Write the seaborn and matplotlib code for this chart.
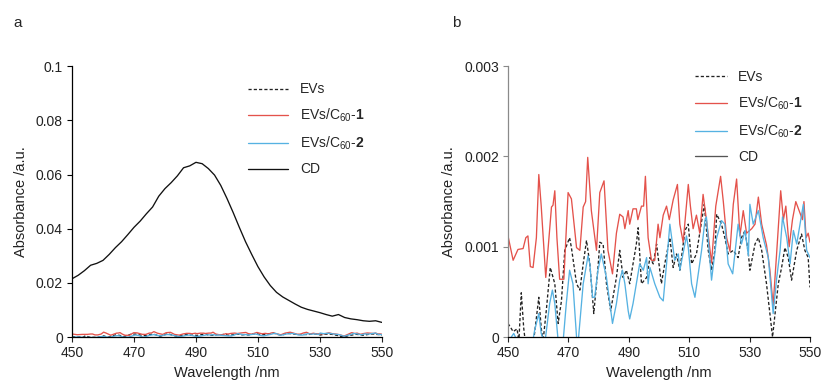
import matplotlib
matplotlib.use("Agg")
import matplotlib.pyplot as plt
import numpy as np
import seaborn as sns

# ---- values ----
# CD absorbance (panel a)
cd_wl = [450, 452, 454, 456, 458, 460, 462, 464, 466, 468,
         470, 472, 474, 476, 478, 480, 482, 484, 486, 488,
         490, 492, 494, 496, 498, 500, 502, 504, 506, 508,
         510, 512, 514, 516, 518, 520, 522, 524, 526, 528,
         530, 532, 534, 536, 538, 540, 542, 544, 546, 548, 550]
cd_abs = [0.0215, 0.0228, 0.0245, 0.0265, 0.0272, 0.0283, 0.0305, 0.0330, 0.0352, 0.0378,
          0.0405, 0.0428, 0.0455, 0.0480, 0.0520, 0.0548, 0.0570, 0.0595, 0.0625, 0.0632,
          0.0645, 0.0640, 0.0622, 0.0598, 0.0560, 0.0512, 0.0460, 0.0405, 0.0352, 0.0305,
          0.0260, 0.0222, 0.0190, 0.0165, 0.0148, 0.0135, 0.0122, 0.0110, 0.0102, 0.0096,
          0.0090, 0.0083, 0.0077, 0.0083, 0.0072, 0.0067, 0.0064, 0.0060, 0.0058, 0.0060, 0.0054]

# EVs (x 1e-3)
evs_wl = [450.0, 450.8, 451.7, 453.0, 453.6, 454.4, 455.2, 455.9, 458.3, 460.2,
          461.0, 461.6, 462.7, 464.0, 465.5, 466.6, 467.7, 468.8, 470.4, 471.0,
          472.7, 473.8, 474.9, 476.0, 477.1, 478.4, 479.8, 480.4, 481.5, 482.6,
          484.0, 485.9, 487.0, 488.1, 489.2, 490.3, 492.5, 493.1, 494.2, 495.9,
          497.0, 498.1, 499.2, 500.8, 501.9, 503.6, 504.7, 505.8, 506.9, 508.6,
          509.7, 510.8, 512.4, 515.0, 516.3, 517.4, 518.5, 519.1, 520.7, 521.8,
          522.9, 524.6, 526.2, 527.3, 528.5, 529.6, 530.1, 531.8, 532.9, 534.0,
          535.6, 537.6, 539.5, 540.6, 541.7, 542.8, 543.9, 545.6, 547.2, 548.3,
          549.4, 550.0]
evs_abs = np.array([
    0.15, 0.11, 0.06, 0.09, -0.05, 0.49, 0.10, -0.10, -0.10, 0.44,
    0.10, -0.05, 0.30, 0.77, 0.59, 0.15, 0.40, 0.96, 1.10, 0.99,
    0.59, 0.52, 0.81, 1.07, 0.81, 0.26, 0.77, 1.05, 1.03, 0.59,
    0.29, 0.66, 0.96, 0.66, 0.74, 0.59, 1.03, 1.21, 0.59, 0.66,
    0.88, 0.81, 1.03, 0.59, 0.81, 1.10, 0.77, 0.92, 0.74, 1.18,
    1.25, 0.81, 0.92, 1.47, 0.96, 0.74, 0.96, 1.36, 1.25, 1.10,
    0.92, 0.96, 0.88, 1.10, 1.18, 0.92, 0.74, 1.03, 1.10, 0.96,
    0.59, 0.00, 0.59, 0.77, 0.99, 0.88, 0.63, 0.96, 1.14, 0.96,
    0.88, 0.55]) * 1e-3

# EVs/C60-1 (x 1e-3)
c60_1_wl = [450.0, 451.7, 453.3, 455.0, 455.9, 456.6, 457.4, 458.3, 459.4, 460.2,
            461.0, 462.5, 464.4, 464.9, 465.5, 466.2, 467.1, 468.5, 469.9, 471.0,
            472.7, 473.8, 474.9, 475.7, 476.4, 477.6, 479.3, 480.4, 481.8, 483.1,
            484.6, 485.9, 487.0, 488.1, 488.7, 489.8, 490.3, 491.4, 492.5, 493.0,
            494.2, 494.9, 495.5, 496.4, 497.5, 498.6, 499.7, 500.3, 501.4, 502.5,
            503.4, 504.7, 506.1, 506.9, 508.0, 509.7, 510.4, 511.3, 512.4, 513.5,
            514.6, 515.7, 517.4, 518.8, 520.4, 521.3, 522.4, 523.5, 524.6, 525.7,
            526.8, 527.9, 529.0, 530.7, 531.8, 532.9, 534.0, 535.6, 536.7, 537.8,
            538.9, 540.3, 541.2, 542.0, 543.1, 544.2, 545.3, 546.4, 547.5, 548.0,
            548.7, 549.4, 550.0]
c60_1_abs = np.array([
    1.12, 0.85, 0.97, 0.98, 1.10, 1.12, 0.78, 0.77, 1.10, 1.80,
    1.45, 0.66, 1.44, 1.46, 1.62, 1.10, 0.64, 0.64, 1.60, 1.53,
    0.99, 0.96, 1.44, 1.50, 1.99, 1.40, 0.96, 1.60, 1.73, 0.96,
    0.70, 1.15, 1.36, 1.33, 1.20, 1.40, 1.25, 1.42, 1.42, 1.30,
    1.45, 1.45, 1.78, 1.10, 0.85, 0.85, 1.25, 1.10, 1.35, 1.45,
    1.30, 1.52, 1.69, 1.25, 1.05, 1.69, 1.45, 1.20, 1.35, 1.15,
    1.58, 1.30, 0.82, 1.45, 1.78, 1.50, 1.10, 0.95, 1.47, 1.75,
    1.12, 1.40, 1.15, 1.20, 1.25, 1.55, 1.25, 1.02, 0.75, 0.35,
    0.90, 1.62, 1.30, 1.45, 1.00, 1.30, 1.50, 1.40, 1.30, 1.50,
    1.10, 1.15, 1.05]) * 1e-3

# EVs/C60-2 (x 1e-3)
c60_2_wl = [450.0, 451.1, 451.9, 453.0, 453.9, 457.7, 458.8, 460.2, 461.0, 462.2,
            463.8, 464.7, 465.5, 466.6, 468.2, 469.3, 470.4, 471.5, 472.7, 473.2,
            474.9, 476.5, 477.1, 478.0, 478.7, 479.8, 480.9, 482.6, 484.6, 485.9,
            487.0, 487.9, 488.7, 489.8, 490.3, 491.4, 493.6, 494.8, 495.9, 496.4,
            497.0, 498.6, 500.3, 501.4, 502.5, 503.6, 505.2, 506.4, 506.9, 509.1,
            509.7, 510.8, 511.9, 514.1, 515.2, 515.7, 517.4, 519.1, 520.7, 521.8,
            522.9, 524.4, 526.2, 527.3, 528.5, 529.6, 530.1, 531.2, 532.9, 534.5,
            536.2, 537.8, 539.0, 540.1, 540.9, 542.3, 543.4, 544.5, 545.6, 547.8,
            548.9, 550.0]
c60_2_abs = np.array([
    -0.04, 0.00, 0.04, -0.04, -0.15, -0.15, 0.07, 0.26, 0.04, -0.07,
    0.37, 0.52, 0.37, -0.04, -0.07, 0.37, 0.74, 0.59, 0.00, -0.07,
    0.59, 0.90, 0.81, 0.44, 0.44, 0.74, 0.92, 0.66, 0.15, 0.37,
    0.63, 0.74, 0.59, 0.29, 0.20, 0.37, 0.81, 0.74, 0.88, 0.59,
    0.77, 0.59, 0.44, 0.40, 0.81, 1.25, 0.85, 0.92, 0.74, 1.12,
    0.99, 0.59, 0.44, 0.96, 1.29, 1.33, 0.63, 1.10, 1.29, 1.25,
    0.81, 0.70, 1.25, 1.03, 1.18, 0.90, 1.47, 1.25, 1.40, 1.10,
    0.88, 0.26, 0.66, 0.96, 1.33, 1.10, 0.81, 1.18, 1.03, 1.47,
    0.96, 0.88]) * 1e-3

labels = ["EVs", r"EVs/C$_{60}$-$\mathbf{1}$", r"EVs/C$_{60}$-$\mathbf{2}$", "CD"]
x_ticks = [450, 470, 490, 510, 530, 550]
ya_ticks = [0, 0.02, 0.04, 0.06, 0.08, 0.1]
ya_labels = ["0", "0.02", "0.04", "0.06", "0.08", "0.1"]
yb_ticks = [0, 0.001, 0.002, 0.003]
yb_labels = ["0", "0.001", "0.002", "0.003"]

RED = "#E4524B"
BLUE = "#56B2E2"

sns.set_theme(style="white")
plt.rcParams["font.family"] = ["Liberation Sans", "DejaVu Sans"]
plt.rcParams["mathtext.fontset"] = "custom"
plt.rcParams["mathtext.rm"] = "Liberation Sans"
plt.rcParams["mathtext.bf"] = "Liberation Sans:bold"

fig = plt.figure(figsize=(8.24, 3.88), dpi=100)
ax_a = fig.add_axes([0.0874, 0.1314, 0.376, 0.698])
ax_b = fig.add_axes([0.6165, 0.1314, 0.3665, 0.698])


def draw_series(ax, cd_color):
    sns.lineplot(x=evs_wl, y=evs_abs, ax=ax, color="#222222", lw=0.95,
                 linestyle=(0, (2.4, 1.6)), label=labels[0])
    sns.lineplot(x=c60_1_wl, y=c60_1_abs, ax=ax, color=RED, lw=0.95, label=labels[1])
    sns.lineplot(x=c60_2_wl, y=c60_2_abs, ax=ax, color=BLUE, lw=0.95, label=labels[2])
    sns.lineplot(x=cd_wl, y=cd_abs, ax=ax, color=cd_color, lw=0.95, label=labels[3])


draw_series(ax_a, "#111111")
draw_series(ax_b, "#555555")

for ax, yt, yl, left_col in [(ax_a, ya_ticks, ya_labels, "black"),
                            (ax_b, yb_ticks, yb_labels, "#8a8a8a")]:
    ax.set_xlim(450, 550)
    ax.set_ylim(yt[0], yt[-1])
    ax.set_xticks(x_ticks)
    ax.set_xticklabels([str(t) for t in x_ticks])
    ax.set_yticks(yt)
    ax.set_yticklabels(yl)
    ax.tick_params(axis="both", direction="out", length=3.5, width=0.8,
                   labelsize=10, pad=3, colors="#222222", bottom=True, left=True)
    ax.tick_params(axis="y", colors=left_col, labelcolor="#222222")
    for side in ["top", "right"]:
        ax.spines[side].set_visible(False)
    ax.spines["bottom"].set_color("black")
    ax.spines["left"].set_color(left_col)
    ax.spines["bottom"].set_linewidth(0.9)
    ax.spines["left"].set_linewidth(0.9)
    ax.set_xlabel("Wavelength /nm", fontsize=10.5, labelpad=4, color="#222222")
    ax.set_ylabel("Absorbance /a.u.", fontsize=10.5, labelpad=6, color="#222222")

ax_a.legend(loc="upper left", bbox_to_anchor=(0.568, 0.94), frameon=False,
            fontsize=10, borderpad=0, borderaxespad=0, handlelength=2.9,
            handletextpad=0.85, labelspacing=0.75)
ax_b.legend(loc="upper left", bbox_to_anchor=(0.619, 0.985), frameon=False,
            fontsize=10, borderpad=0, borderaxespad=0, handlelength=2.3,
            handletextpad=0.8, labelspacing=0.75)

fig.text(18 / 824, 1 - 23 / 388, "a", fontsize=11, ha="center", va="center")
fig.text(456 / 824, 1 - 23 / 388, "b", fontsize=11, ha="center", va="center")

fig.savefig("out.png", dpi=100)
